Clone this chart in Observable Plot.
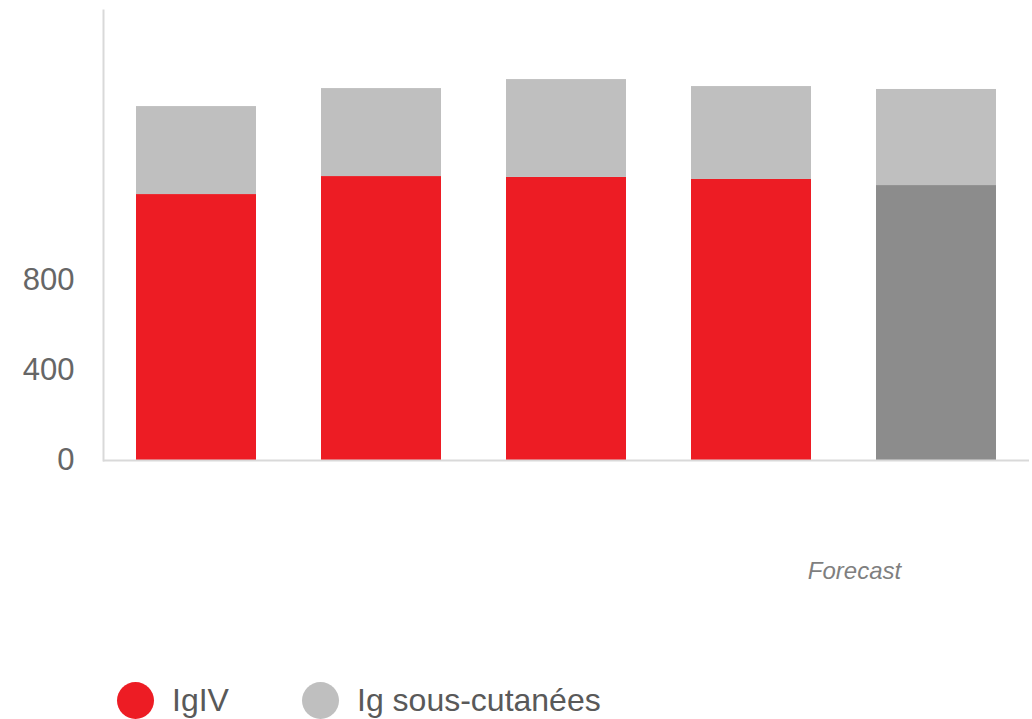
<!DOCTYPE html>
<html>
<head>
<meta charset="utf-8">
<script src="https://cdn.jsdelivr.net/npm/d3@7"></script>
<script src="https://cdn.jsdelivr.net/npm/@observablehq/plot@0.6"></script>
<style>
  html, body { margin: 0; padding: 0; background: #fff; }
  #wrap { position: relative; width: 1032px; height: 719px; overflow: hidden; font-family: "Liberation Sans", Arial, sans-serif; }
  #legend { position: absolute; left: 117px; top: 682px; display: flex; align-items: center; font-size: 32px; color: #595959; }
  .item { display: flex; align-items: center; }
  .sw { width: 37px; height: 37px; border-radius: 50%; display: inline-block; margin-right: 18px; }
</style>
</head>
<body>
<div id="wrap">
  <div id="chart"></div>
  <div id="legend"></div>
</div>
<script>
const years = ["2019", "2020", "2021", "2022", "2023"];
const igiv = [1182, 1262, 1258, 1249, 1222];
const scig = [391, 391, 435, 413, 427];
const forecastYear = "2023";
const yTicks = [0, 400, 800];
const seriesNames = ["IgIV", "IgIV (prévision)", "Ig sous-cutanées"];
const seriesColors = ["#ED1C24", "#8C8C8C", "#BFBFBF"];

const rows = [];
years.forEach((yr, i) => {
  rows.push({year: yr, series: yr === forecastYear ? seriesNames[1] : seriesNames[0], order: 0, value: igiv[i]});
  rows.push({year: yr, series: seriesNames[2], order: 1, value: scig[i]});
});

const chart = Plot.plot({
  width: 1032,
  height: 620,
  marginTop: 10,
  marginBottom: 160,
  marginLeft: 103,
  marginRight: 3,
  style: {fontFamily: "'Liberation Sans', Arial, sans-serif", background: "#fff"},
  x: {domain: years, paddingInner: 0.352, paddingOuter: 0.176, axis: null},
  y: {domain: [0, 2000], axis: null},
  color: {domain: seriesNames, range: seriesColors},
  marks: [
    Plot.barY(rows, Plot.stackY({order: "order"}, {x: "year", y: "value", fill: "series", z: "order"})),
    Plot.frame({anchor: "left", stroke: "#D9D9D9", strokeWidth: 2}),
    Plot.ruleY([0], {stroke: "#D9D9D9", strokeWidth: 2}),
    Plot.axisY({ticks: yTicks, tickSize: 0, tickPadding: 29, fontSize: 31, fill: "#666666", tickFormat: d => String(d), label: null}),
    Plot.text(["Forecast"], {x: () => forecastYear, frameAnchor: "bottom", dx: -82, dy: 118, fontSize: 24, fontStyle: "italic", fill: "#7F7F7F"})
  ]
});
document.getElementById("chart").appendChild(chart);

const legendItems = [
  {label: "IgIV", color: seriesColors[0]},
  {label: "Ig sous-cutanées", color: seriesColors[2]}
];
const legend = document.getElementById("legend");
legendItems.forEach((it, i) => {
  const d = document.createElement("div");
  d.className = "item";
  d.style.marginRight = i === 0 ? "0" : "0";
  d.innerHTML = `<span class="sw" style="background:${it.color}"></span><span>${it.label}</span>`;
  if (i === 0) d.style.width = "185px";
  legend.appendChild(d);
});
</script>
</body>
</html>
